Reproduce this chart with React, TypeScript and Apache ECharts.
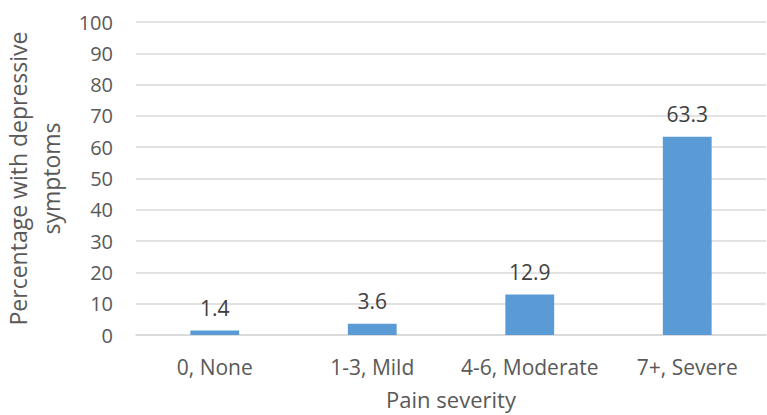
import React, { useEffect, useRef } from "react";
import * as echarts from "echarts";

const categories = ["0, None", "1-3, Mild", "4-6, Moderate", "7+, Severe"];
const values = [1.4, 3.6, 12.9, 63.3];
const yAxisTitle = "Percentage with depressive\nsymptoms";
const xAxisTitle = "Pain severity";

export default function App() {
  const ref = useRef<HTMLDivElement>(null);
  useEffect(() => {
    document.body.style.margin = "0";
    const chart = echarts.init(ref.current!, null, { renderer: "svg" });
    const font = "'Open Sans', sans-serif";
    chart.setOption({
      animation: false,
      grid: { left: 136, right: 1, top: 22, bottom: 80, containLabel: false, outerBoundsMode: "none" },
      xAxis: {
        type: "category",
        data: categories,
        axisLine: { show: true, lineStyle: { color: "#d9d9d9", width: 1.5 } },
        axisTick: { show: false },
        axisLabel: { color: "#595959", fontSize: 21, fontFamily: font, margin: 21, interval: 0 },
        name: xAxisTitle,
        nameLocation: "middle",
        nameGap: 53,
        nameTextStyle: { color: "#595959", fontSize: 22, fontFamily: font },
      },
      yAxis: {
        type: "value",
        min: 0,
        max: 100,
        interval: 10,
        axisLine: { show: false },
        axisTick: { show: false },
        splitLine: { lineStyle: { color: "#d9d9d9", width: 1.5 } },
        axisLabel: { color: "#595959", fontSize: 20, fontFamily: font, margin: 23 },
        name: yAxisTitle,
        nameLocation: "middle",
        nameGap: 64,
        nameRotate: 90,
        nameTextStyle: { color: "#595959", fontSize: 23, fontFamily: font, lineHeight: 33 },
      },
      series: [
        {
          type: "bar",
          data: values,
          barWidth: "31%",
          itemStyle: { color: "#5b9bd5" },
          label: {
            show: true,
            position: "top",
            distance: 12,
            color: "#404040",
            fontSize: 21,
            fontFamily: font,
          },
        },
      ],
    });
    return () => chart.dispose();
  }, []);
  return <div ref={ref} style={{ width: 767, height: 415 }} />;
}
